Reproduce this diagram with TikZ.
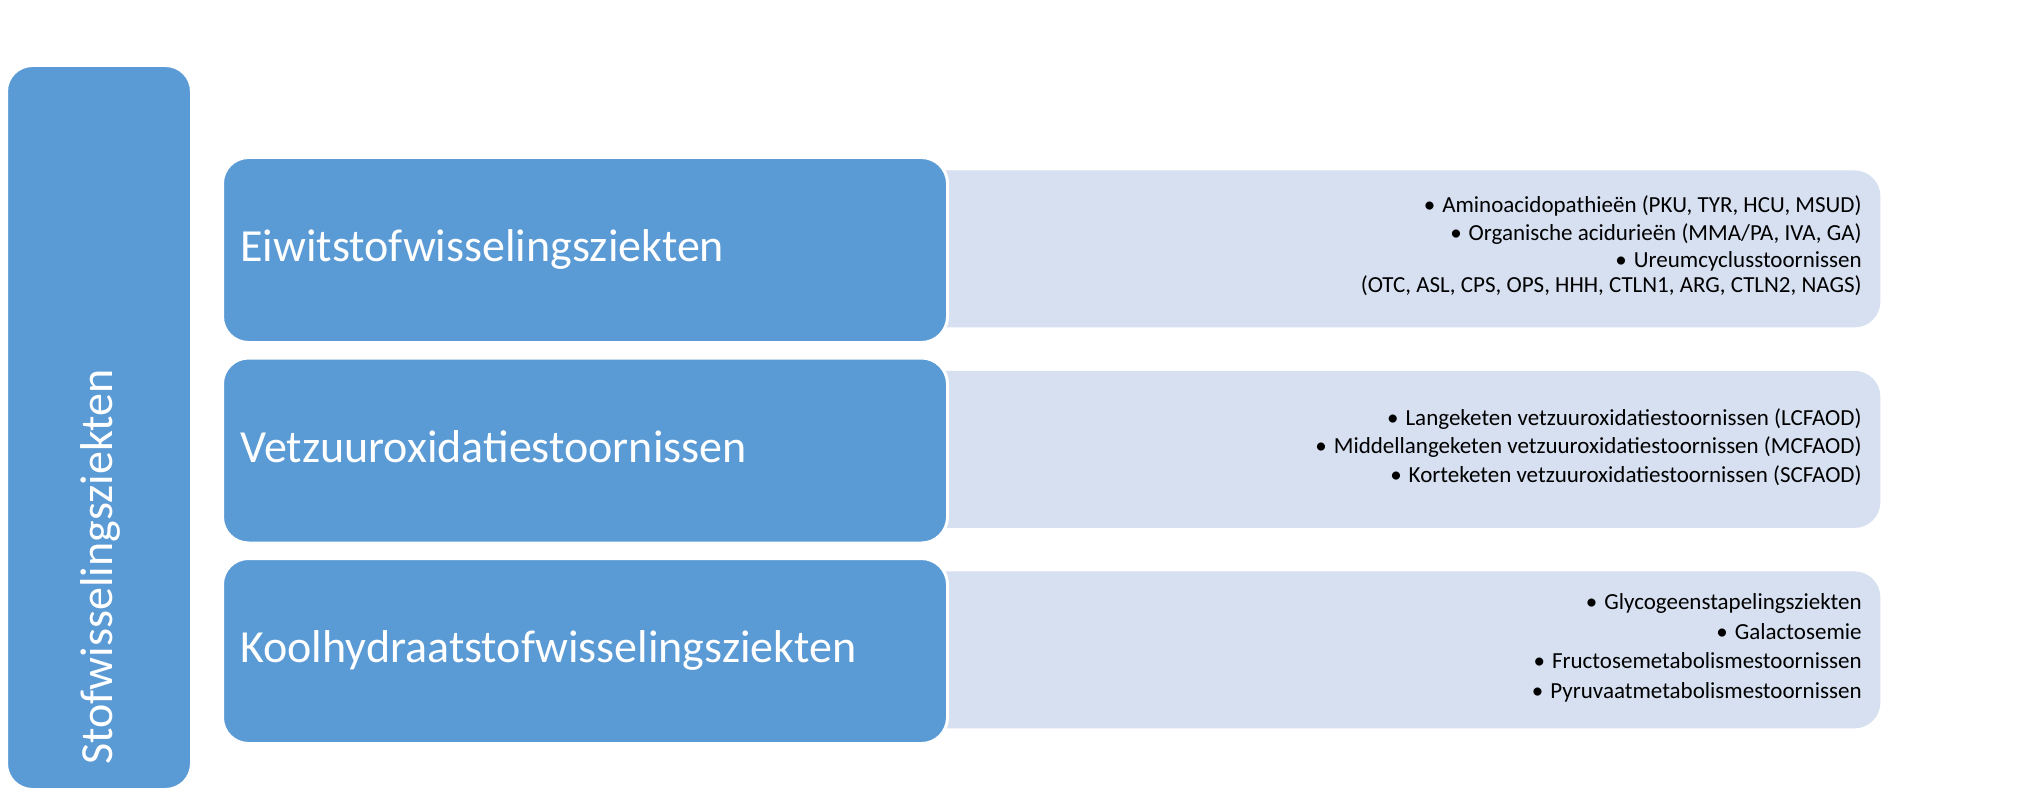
\documentclass[tikz,border=0pt]{standalone}
\usepackage{fontspec}
\setmainfont{Carlito}
\definecolor{darkb}{HTML}{5B9BD5}
\definecolor{lightb}{HTML}{D6E0F1}
\tikzset{
  darkbox/.style={fill=darkb, draw=white, line width=1.5pt, rounded corners=13pt, inner sep=0pt, anchor=north west},
  lightbox/.style={fill=lightb, draw=none, rounded corners=13pt, inner sep=0pt, anchor=north west, minimum width=500pt, minimum height=78.5pt},
  title/.style={text=white, font=\fontsize{23}{27}\selectfont, inner sep=0pt, anchor=base west},
  item/.style={text=black, font=\fontsize{11.5}{14}\selectfont, inner sep=0pt, anchor=base east},
}
\newcommand{\bul}{•\hspace{3.5pt}}
\begin{document}
\begin{tikzpicture}[x=0.5pt,y=-0.5pt]
\fill[white] (0,0) rectangle (2030,797);
\useasboundingbox (0,0) rectangle (2030,797);
% light boxes (left corners hidden beneath the dark boxes)
\node[lightbox] (l1) at (880,170) {};
\node[lightbox] (l2) at (880,370.5) {};
\node[lightbox] (l3) at (880,571) {};
% dark boxes
\node[darkbox, minimum width=92.5pt, minimum height=362pt] (main) at (5,64) {};
\node[darkbox, minimum width=362.5pt, minimum height=92.5pt] (d1) at (221,156) {};
\node[darkbox, minimum width=362.5pt, minimum height=92.5pt] (d2) at (221,356.5) {};
\node[darkbox, minimum width=362.5pt, minimum height=92.5pt] (d3) at (221,557) {};
% titles
\node[title, rotate=90] (tmain) at (112,765) {Stofwisselingsziekten};
\node[title] (t1) at (240,261.5) {Eiwitstofwisselingsziekten};
\node[title] (t2) at (240,462) {Vetzuuroxidatiestoornissen};
\node[title] (t3) at (240,662.5) {Koolhydraatstofwisselingsziekten};
% items row 1
\node[item] (a1) at (1862,212.3) {\bul Aminoacidopathieën (PKU, TYR, HCU, MSUD)};
\node[item] (a2) at (1862,240.7) {\bul Organische acidurieën (MMA/PA, IVA, GA)};
\node[item] (a3) at (1862,267.7) {\bul Ureumcyclusstoornissen};
\node[item] (a4) at (1862,292.3) {(OTC, ASL, CPS, OPS, HHH, CTLN1, ARG, CTLN2, NAGS)};
% items row 2
\node[item] (b1) at (1862,425.7) {\bul Langeketen vetzuuroxidatiestoornissen (LCFAOD)};
\node[item] (b2) at (1862,453.3) {\bul Middellangeketen vetzuuroxidatiestoornissen (MCFAOD)};
\node[item] (b3) at (1862,482.3) {\bul Korteketen vetzuuroxidatiestoornissen (SCFAOD)};
% items row 3
\node[item] (c1) at (1862,609.5) {\bul Glycogeenstapelingsziekten};
\node[item] (c2) at (1862,639) {\bul Galactosemie};
\node[item] (c3) at (1862,668.5) {\bul Fructosemetabolismestoornissen};
\node[item] (c4) at (1862,698) {\bul Pyruvaatmetabolismestoornissen};
\end{tikzpicture}
\end{document}
